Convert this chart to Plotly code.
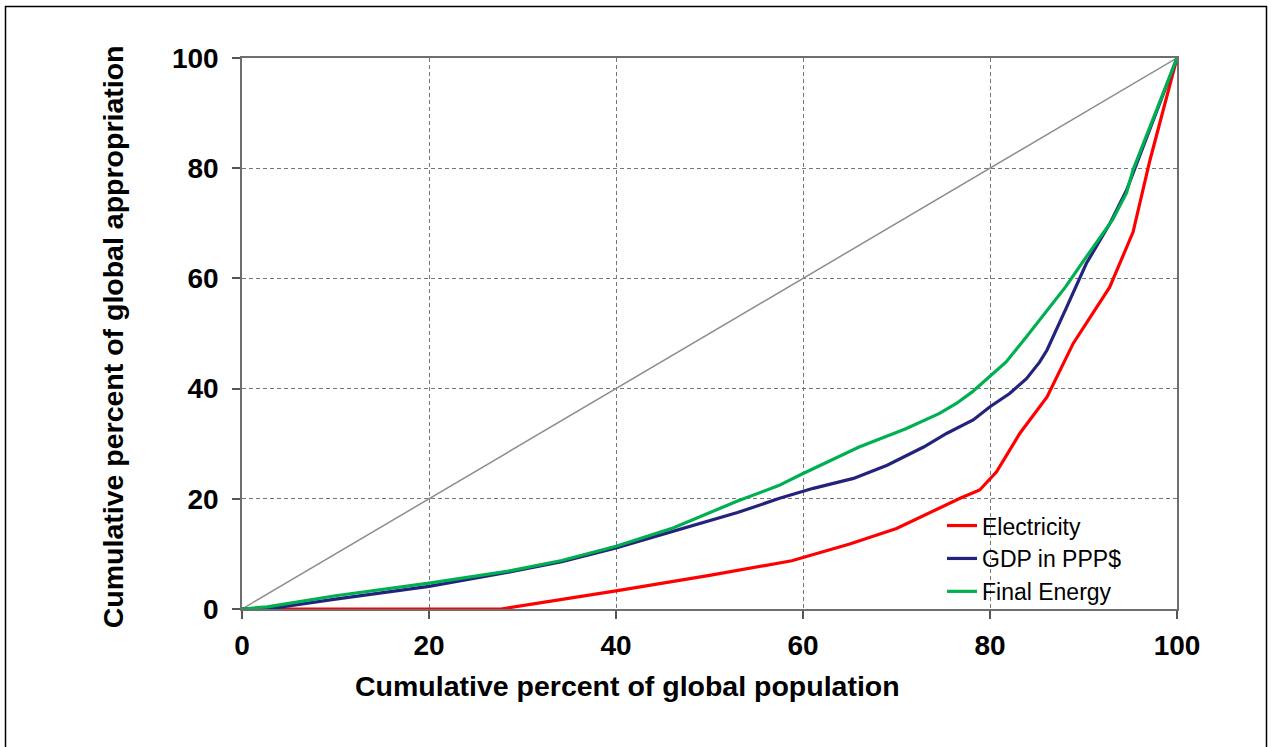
import plotly.graph_objects as go

# ---- data ----
diag_x = [0, 100]
diag_y = [0, 100]

elec_x = [0, 27.7, 40, 50, 58.8, 65, 70, 76.8, 78.9, 80.7, 83.2, 86.1, 88.9, 92.8, 95.3, 97.1, 100]
elec_y = [0, 0, 3.3, 6.1, 8.75, 11.8, 14.6, 20.1, 21.6, 24.9, 31.9, 38.5, 48.2, 58.4, 68.4, 81.4, 100]

gdp_x = [0, 2.7, 10, 20, 28.9, 34.2, 40, 46.1, 53, 57.5, 61.1, 65.4, 69.0, 72.9, 75.4, 78.2,
         80, 82.1, 83.9, 85.3, 86.1, 88.2, 90.3, 92.8, 94.6, 100]
gdp_y = [0, 0, 1.8, 4.1, 6.8, 8.6, 11.1, 14.1, 17.5, 20.1, 21.9, 23.7, 26.1, 29.4, 31.9, 34.3,
         36.7, 39.1, 41.8, 44.8, 47.0, 54.8, 62.7, 69.9, 76.0, 100]

fe_x = [0, 2.7, 10, 20, 28.9, 34.2, 40, 46.1, 53, 57.4, 59.9, 66.0, 71.0, 74.6, 76.4, 78.1,
        79.9, 81.7, 83.9, 86.0, 88.1, 90.3, 93.1, 94.6, 95.3, 100]
fe_y = [0, 0.4, 2.4, 4.7, 7.0, 8.8, 11.4, 14.7, 19.6, 22.4, 24.5, 29.4, 32.7, 35.5, 37.3, 39.4,
        42.1, 44.8, 49.4, 53.9, 58.5, 63.9, 70.6, 75.5, 79.7, 100]

tick_vals = [0, 20, 40, 60, 80, 100]
x_title = "Cumulative percent of global population"
y_title = "Cumulative percent of global appropriation"

FONT = "Liberation Sans, Arial, sans-serif"

fig = go.Figure()
fig.add_trace(go.Scatter(x=diag_x, y=diag_y, mode="lines", showlegend=False,
                         line=dict(color="#8c8c8c", width=1.5), hoverinfo="skip"))
fig.add_trace(go.Scatter(x=elec_x, y=elec_y, mode="lines", name="Electricity",
                         line=dict(color="#FF0000", width=3.2)))
fig.add_trace(go.Scatter(x=gdp_x, y=gdp_y, mode="lines", name="GDP in PPP$",
                         line=dict(color="#23237D", width=3.2)))
fig.add_trace(go.Scatter(x=fe_x, y=fe_y, mode="lines", name="Final Energy",
                         line=dict(color="#00B050", width=3.2)))

L, R, T, B = 242, 1177, 57.5, 609
W, H = 1271, 747
pw, ph = R - L, B - T

axis_common = dict(
    range=[0, 100], tickvals=tick_vals, ticks="outside", ticklen=8, tickwidth=1.5,
    tickcolor="#555555", showline=True, linecolor="#6e6e6e", linewidth=1.5, mirror=True,
    showgrid=True, gridcolor="#777777", gridwidth=1, griddash="4px,3px",
    zeroline=False, tickfont=dict(family=FONT, size=28, color="black", weight="bold"),
    fixedrange=True,
)
fig.update_xaxes(**axis_common, ticklabelstandoff=3)
fig.update_yaxes(**axis_common, ticklabelstandoff=8)

def px_to_paper_x(px):
    return (px - L) / pw

def px_to_paper_y(py):
    return (B - py) / ph

fig.add_annotation(text=x_title, xref="paper", yref="paper",
                   x=px_to_paper_x(627), y=px_to_paper_y(686), showarrow=False,
                   xanchor="center", yanchor="middle",
                   font=dict(family=FONT, size=28.5, color="black", weight="bold"))
fig.add_annotation(text=y_title, xref="paper", yref="paper",
                   x=px_to_paper_x(113), y=px_to_paper_y(337), showarrow=False,
                   textangle=-90, xanchor="center", yanchor="middle",
                   font=dict(family=FONT, size=28.5, color="black", weight="bold"))

# outer frame
fig.add_shape(type="rect", xref="paper", yref="paper",
              x0=px_to_paper_x(5.5), x1=px_to_paper_x(1266.5),
              y0=px_to_paper_y(760), y1=px_to_paper_y(6),
              line=dict(color="black", width=1.5), fillcolor="rgba(0,0,0,0)", layer="below")

fig.update_layout(
    width=W, height=H,
    margin=dict(l=L, r=W - R, t=T, b=H - B, pad=0),
    paper_bgcolor="white", plot_bgcolor="white",
    showlegend=True,
    legend=dict(x=px_to_paper_x(942), y=px_to_paper_y(504), xanchor="left", yanchor="top",
                bgcolor="rgba(0,0,0,0)", borderwidth=0,
                font=dict(family=FONT, size=23, color="black")),
)

fig.write_html("out.html", config={"displayModeBar": False})

# remove default page margin so the figure sits at the window's top-left corner
with open("out.html", "r", encoding="utf-8") as f:
    html = f.read()
html = html.replace("<body>", '<body style="margin:0;padding:0;overflow:hidden">', 1)
with open("out.html", "w", encoding="utf-8") as f:
    f.write(html)
